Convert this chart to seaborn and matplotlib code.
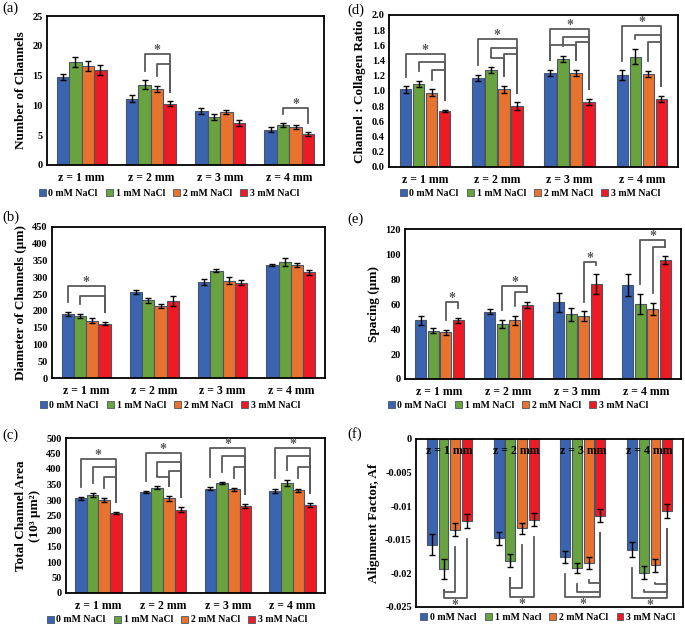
import pandas as pd
import seaborn as sns
import matplotlib.pyplot as plt
from matplotlib.patches import Patch

depths = ["z = 1 mm", "z = 2 mm", "z = 3 mm", "z = 4 mm"]
salts = ["0 mM NaCl", "1 mM NaCl", "2 mM NaCl", "3 mM NaCl"]
salts_f = ["0 mM Nacl", "1 mM Nacl", "2 mM NaCl", "3 mM NaCl"]
colors = ["#3A63B0", "#68A33F", "#E8732E", "#EC1B24"]

# rows = depth, columns follow the salt order
channels = [[14.8, 17.3, 16.6, 15.9], [11.1, 13.5, 12.8, 10.3],
            [9.0, 8.0, 8.9, 7.1], [5.9, 6.7, 6.4, 5.2]]
channels_err = [[0.5, 0.8, 0.9, 0.8], [0.6, 0.7, 0.5, 0.4],
                [0.5, 0.5, 0.4, 0.5], [0.4, 0.3, 0.3, 0.3]]

diameter = [[191, 186, 171, 162], [257, 231, 216, 229],
            [286, 320, 290, 284], [336, 346, 337, 315]]
diameter_err = [[5, 6, 8, 4], [6, 7, 6, 15], [10, 4, 10, 8], [3, 12, 6, 7]]

area = [[305, 316, 300, 258], [326, 339, 305, 268],
        [336, 355, 335, 280], [330, 355, 332, 283]]
area_err = [[5, 5, 6, 3], [4, 5, 8, 8], [5, 4, 5, 7], [7, 10, 5, 6]]

ratio = [[1.02, 1.09, 0.98, 0.74], [1.17, 1.28, 1.02, 0.80],
         [1.24, 1.42, 1.24, 0.86], [1.21, 1.45, 1.22, 0.89]]
ratio_err = [[0.04, 0.04, 0.04, 0.01], [0.04, 0.04, 0.05, 0.05],
             [0.04, 0.04, 0.04, 0.04], [0.06, 0.10, 0.04, 0.04]]

spacing = [[47, 38.5, 37.5, 47], [54, 44, 47, 59.5],
           [61.3, 51.7, 50.1, 75.7], [75.2, 60, 56, 95.2]]
spacing_err = [[3.5, 2, 2, 1.8], [2, 3.5, 3.5, 2.5], [7.5, 5, 4, 8], [8.5, 8, 5, 3]]

align = [[-0.0157, -0.0193, -0.0135, -0.0122], [-0.0148, -0.0181, -0.0133, -0.0120],
         [-0.0176, -0.0192, -0.0185, -0.0114], [-0.0165, -0.0199, -0.0188, -0.0107]]
align_err = [[0.0016, 0.0015, 0.001, 0.001], [0.001, 0.001, 0.0008, 0.001],
             [0.0009, 0.0007, 0.0009, 0.001], [0.0011, 0.001, 0.001, 0.001]]

# significance brackets: (depth, from bar, to bar, level)
channels_sig = [(1, 1, 3, 18.7), (1, 2, 3, 17.0), (3, 1, 3, 9.5)]
diameter_sig = [(0, 0, 3, 273), (0, 1, 3, 245)]
area_sig = [(0, 0, 3, 433), (0, 1, 3, 408), (0, 2, 3, 374),
            (1, 0, 3, 451), (1, 1, 3, 422), (1, 2, 3, 392), (1, 1, 2, 374),
            (2, 0, 3, 468), (2, 1, 3, 441), (2, 2, 3, 408),
            (3, 0, 3, 468), (3, 1, 3, 441), (3, 2, 3, 408)]
ratio_sig = [(0, 0, 3, 1.49), (0, 1, 3, 1.38), (0, 2, 3, 1.27),
             (1, 0, 3, 1.68), (1, 1, 3, 1.57), (1, 2, 3, 1.49), (1, 1, 2, 1.44),
             (2, 0, 3, 1.81), (2, 1, 3, 1.705), (2, 2, 3, 1.65), (2, 0, 2, 1.60),
             (3, 0, 3, 1.85), (3, 1, 3, 1.74), (3, 2, 3, 1.65)]
spacing_sig = [(0, 2, 3, 61.6), (1, 1, 3, 74.7), (1, 2, 3, 69.6),
               (2, 2, 3, 93.9), (3, 1, 3, 111.5), (3, 2, 3, 106)]
align_sig = [(0, 1, 2, -0.0227), (0, 1, 3, -0.0237), (1, 1, 2, -0.0221), (1, 1, 3, -0.0235),
             (2, 2, 3, -0.0214), (2, 1, 3, -0.0227), (2, 0, 3, -0.0235),
             (3, 2, 3, -0.0216), (3, 1, 3, -0.0228), (3, 0, 3, -0.0237)]

plt.rcParams['font.family'] = 'Liberation Serif'
plt.rcParams['font.weight'] = 'bold'
plt.rcParams['axes.labelweight'] = 'bold'

W, H = 685, 625
fig = plt.figure(figsize=(6.85, 6.25), dpi=100)


def rect(l, r, t, b):
    return [l / W, 1 - b / H, (r - l) / W, (b - t) / H]


def panel(box, values, errors, sig, ylim, yticks, yticklabels, ylabel,
          legend_at, gap=0.0, width=0.72, names=salts, flip=False):
    ax = fig.add_axes(rect(*box))
    df = pd.DataFrame([(d, names[j], values[i][j])
                       for i, d in enumerate(depths) for j in range(4)],
                      columns=['depth', 'salt', 'value'])
    sns.barplot(data=df, x='depth', y='value', hue='salt', palette=colors,
                errorbar=None, width=width, gap=gap, saturation=1,
                edgecolor='#4A5568', linewidth=0.8, legend=False, ax=ax)

    centers = []
    for k, cont in enumerate(list(ax.containers)):
        xs = [b.get_x() + b.get_width() / 2 for b in cont]
        centers.append(xs)
        ax.errorbar(xs, [values[i][k] for i in range(4)],
                    yerr=[errors[i][k] for i in range(4)], fmt='none',
                    ecolor='black', elinewidth=1, capsize=2, capthick=1, zorder=4)

    rng = ylim[1] - ylim[0]
    sign = -1 if flip else 1
    outer = {}
    for d, i, j, level in sig:
        xi, xj = centers[i][d], centers[j][d]
        fi = values[d][i] + sign * (errors[d][i] + 0.065 * rng)
        fj = values[d][j] + sign * (errors[d][j] + 0.065 * rng)
        ax.plot([xi, xi, xj, xj], [fi, level, level, fj], color='#5A5A5A',
                lw=1.3, zorder=3)
        if d not in outer or sign * level > sign * outer[d][2]:
            outer[d] = (xi, xj, level)
    for d, (xi, xj, level) in outer.items():
        ax.text((xi + xj) / 2, level - (0.004 * rng if flip else 0), '*',
                color='#5A5A5A', fontsize=10, ha='center',
                va='top' if flip else 'baseline')

    ax.set_ylim(*ylim)
    ax.set_xlim(-0.5, 3.5)
    ax.set_yticks(yticks)
    ax.set_yticklabels(yticklabels)
    ax.set_xlabel('')
    ax.set_ylabel(ylabel, fontsize=9.5)
    ax.tick_params(length=0, labelsize=7.5, pad=3)
    ax.tick_params(axis='x', labelsize=8.5, pad=5)
    for s in ax.spines.values():
        s.set_linewidth(1.3)
        s.set_color('black')
    if flip:
        ax.xaxis.tick_top()
        ax.tick_params(axis='x', pad=-13)

    handles = [Patch(facecolor=c, edgecolor='#4A5568', lw=0.6) for c in colors]
    fig.legend(handles, names, loc='center',
               bbox_to_anchor=(legend_at[0] / W, 1 - legend_at[1] / H),
               ncol=4, frameon=False, fontsize=7, handlelength=0.7,
               handleheight=0.7, handletextpad=0.3, columnspacing=0.85,
               borderpad=0)
    return ax


panel((47, 324, 16, 165), channels, channels_err, channels_sig, (0, 25),
      range(0, 26, 5), [str(v) for v in range(0, 26, 5)],
      'Number of Channels', (169, 193))
panel((52, 325, 227, 378), diameter, diameter_err, diameter_sig, (0, 450),
      range(0, 451, 50), [str(v) for v in range(0, 451, 50)],
      'Diameter of Channels (μm)', (170, 405))
panel((66, 325, 438, 593), area, area_err, area_sig, (0, 500),
      range(0, 501, 50), [str(v) for v in range(0, 501, 50)],
      'Total Channel Area\n(10³ μm²)', (177, 620))
rt = [i / 10 for i in range(0, 21, 2)]
panel((389, 678, 15, 167), ratio, ratio_err, ratio_sig, (0, 2.0),
      rt, [f'{v:.1f}' for v in rt],
      'Channel : Collagen Ratio', (530, 193), gap=0.12)
panel((405, 681, 229, 379), spacing, spacing_err, spacing_sig, (0, 120),
      range(0, 121, 20), [str(v) for v in range(0, 121, 20)],
      'Spacing (μm)', (518, 405), gap=0.12)
at = [0, -0.005, -0.01, -0.015, -0.02, -0.025]
panel((416, 683, 439, 607), align, align_err, align_sig, (-0.025, 0),
      at, ['0', '-0.005', '-0.01', '-0.015', '-0.02', '-0.025'],
      'Alignment Factor, Af', (548, 617), gap=0.15, width=0.7,
      names=salts_f, flip=True)

for x, y, s in [(2, 8, '(a)'), (347, 10, '(d)'), (2, 217, '(b)'),
                (347, 219, '(e)'), (2, 435, '(c)'), (347, 434, '(f)')]:
    fig.text(x / W, 1 - y / H, s, fontsize=10.5, fontweight='normal',
             ha='left', va='center')

fig.savefig('out.png', dpi=100)
